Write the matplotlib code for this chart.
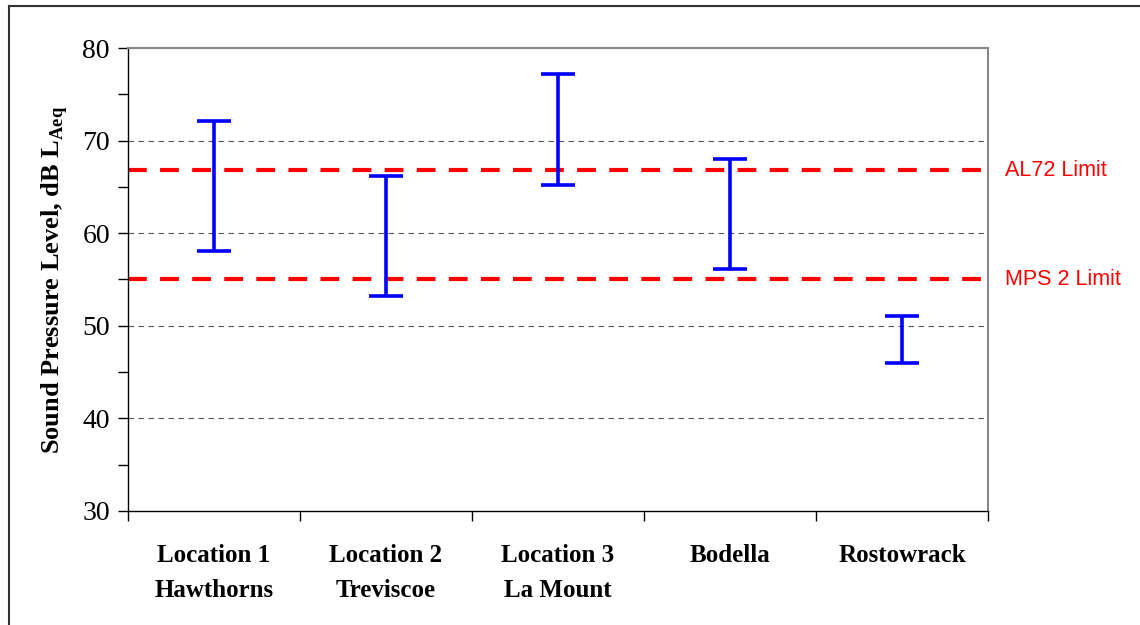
import matplotlib.pyplot as plt
from matplotlib.lines import Line2D
from matplotlib.ticker import MultipleLocator

plt.rcParams["mathtext.fontset"] = "custom"
plt.rcParams["mathtext.rm"] = "Liberation Serif"
plt.rcParams["mathtext.bf"] = "Liberation Serif:bold"

# categories and measured ranges (dB LAeq)
sites = ["Location 1\nHawthorns", "Location 2\nTreviscoe", "Location 3\nLa Mount",
         "Bodella", "Rostowrack"]
low = [58.1, 53.2, 65.2, 56.1, 46.0]
high = [72.1, 66.2, 77.2, 68.0, 51.1]

limit_names = ["AL72 Limit", "MPS 2 Limit"]
limit_values = [66.8, 55.0]

fig = plt.figure(figsize=(11.4, 6.25), dpi=100)
ax = fig.add_axes([128 / 1140, 1 - 511 / 625, 860 / 1140, 463 / 625])

# outer frame (only top and left visible)
fig.add_artist(Line2D([9 / 1140, 9 / 1140], [0, 1 - 6 / 625], transform=fig.transFigure,
                      color="#333333", lw=1.5))
fig.add_artist(Line2D([9 / 1140, 1], [1 - 6 / 625, 1 - 6 / 625], transform=fig.transFigure,
                      color="#333333", lw=1.5))

xpos = [i + 0.5 for i in range(len(sites))]

# grid
for g in [40, 50, 60, 70]:
    ax.axhline(g, color="#555555", lw=0.8, dashes=(5, 4), zorder=1)

# limit lines
for name, val in zip(limit_names, limit_values):
    ax.axhline(val, color="#ff0000", lw=3, dashes=(4.5, 3.2), zorder=2)
    ax.text(1.02, val, name, transform=ax.get_yaxis_transform(), color="#ff0000",
            fontsize=15.5, family="Liberation Sans", va="center", ha="left")

# range bars
mid = [(a + b) / 2 for a, b in zip(low, high)]
err = [[m - a for m, a in zip(mid, low)], [b - m for m, b in zip(mid, high)]]
ax.errorbar(xpos, mid, yerr=err, fmt="none", ecolor="#0000ff", elinewidth=2.6,
            capsize=12, capthick=2.6, zorder=3)

ax.set_xlim(0, len(sites))
ax.set_ylim(30, 80)
ax.set_xticks(range(len(sites) + 1))
ax.set_xticklabels([])
ax.set_xticks(xpos, minor=True)
ax.set_xticklabels(sites, minor=True, fontsize=18, fontweight="bold", family="Liberation Serif",
                   linespacing=1.65)
ax.tick_params(axis="x", which="minor", length=0, pad=24)
ax.tick_params(axis="x", which="major", direction="out", length=7, width=1)

ax.yaxis.set_major_locator(MultipleLocator(10))
ax.yaxis.set_minor_locator(MultipleLocator(5))
ax.tick_params(axis="y", which="both", direction="out", length=7, width=1, labelsize=20, pad=6)
for lbl in ax.get_yticklabels():
    lbl.set_family("Liberation Serif")

ax.set_ylabel(r"Sound Pressure Level, dB L$_{\mathbf{Aeq}}$", fontsize=19, fontweight="bold",
              family="Liberation Serif", labelpad=9)

for s in ["top", "right"]:
    ax.spines[s].set_color("#888888")
    ax.spines[s].set_linewidth(1.5)
for s in ["left", "bottom"]:
    ax.spines[s].set_color("black")
    ax.spines[s].set_linewidth(1)

fig.savefig("out.png", dpi=100)
